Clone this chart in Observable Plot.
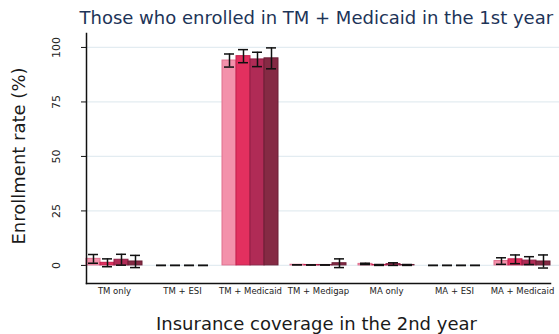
<!DOCTYPE html>
<html>
<head>
<meta charset="utf-8">
<script src="https://cdn.jsdelivr.net/npm/d3@7"></script>
<script src="https://cdn.jsdelivr.net/npm/@observablehq/plot@0.6"></script>
<style>
  body { margin: 0; background: #fff; }
  #wrap { position: relative; width: 559px; height: 334px; overflow: hidden; font-family: "DejaVu Sans", sans-serif; }
  #wrap svg { position: absolute; left: 0; top: 0; }
  .ttl { position: absolute; white-space: nowrap; color: #1d3458; font-size: 18px; }
  .xlab { position: absolute; white-space: nowrap; color: #1a1a1a; font-size: 18px; }
  .ylab { position: absolute; white-space: nowrap; color: #1a1a1a; font-size: 18px; transform: translate(-50%, -50%) rotate(-90deg); }
</style>
</head>
<body>
<div id="wrap">
  <div class="ttl" id="title">Those who enrolled in TM + Medicaid in the 1st year</div>
  <div class="xlab" id="xlabel">Insurance coverage in the 2nd year</div>
  <div class="ylab" id="ylabel">Enrollment rate (%)</div>
</div>
<script>
// Coverage categories in the 2nd year
const categories = ["TM only", "TM + ESI", "TM + Medicaid", "TM + Medigap", "MA only", "MA + ESI", "MA + Medicaid"];
// Four cohorts shown side by side in each category
const cohorts = ["A", "B", "C", "D"];
const cohortFill = ["#f391ab", "#e3305f", "#b02b56", "#852a44"];
const cohortEdge = ["#e0708e", "#c41e4c", "#8f1f44", "#6a1e35"];

// Mean enrollment rate (%) per category, one array per cohort
const rateA = [3.0, 0, 94.0, 0.3, 0.7, 0, 2.0];
const rateB = [1.2, 0, 96.0, 0.2, 0.2, 0, 2.8];
const rateC = [2.6, 0, 94.5, 0.2, 0.6, 0, 2.2];
const rateD = [1.8, 0, 95.0, 1.0, 0.2, 0, 1.8];

// Half-width of the error bars
const errA = [2.0, 0, 3.0, 0, 0.3, 0, 1.5];
const errB = [1.8, 0, 3.0, 0, 0.2, 0, 2.0];
const errC = [2.5, 0, 3.3, 0, 0.6, 0, 1.8];
const errD = [2.8, 0, 4.8, 2.0, 0.2, 0, 3.0];

const yTicks = [0, 25, 50, 75, 100];

const rates = [rateA, rateB, rateC, rateD];
const errs = [errA, errB, errC, errD];
const rows = [];
categories.forEach((cat, i) => {
  cohorts.forEach((co, j) => {
    rows.push({cat, cohort: co, rate: rates[j][i], lo: rates[j][i] - errs[j][i], hi: rates[j][i] + errs[j][i]});
  });
});

const W = 559, H = 334;
const ML = 74, MR = -4;
const yDomain = [-8.3, 106.4];

const chart = Plot.plot({
  width: W,
  height: H,
  marginLeft: ML,
  marginRight: MR,
  marginTop: 33,
  marginBottom: 51,
  style: {fontFamily: "DejaVu Sans, sans-serif", background: "transparent", overflow: "visible"},
  fx: {domain: categories, paddingInner: 0.176, paddingOuter: 0.176, label: null},
  x: {domain: cohorts, padding: 0, axis: null},
  y: {domain: yDomain, ticks: yTicks, label: null},
  color: {domain: cohorts, range: cohortFill},
  marks: [
    // horizontal grid spanning the whole plotting area, drawn as long inward ticks of a y axis
    Plot.axisY({ticks: yTicks, tickSize: -(W - ML - MR), text: null, stroke: "#e3ecf1", strokeWidth: 1.2, strokeOpacity: 1, label: null}),
    Plot.axisFx({anchor: "bottom", fontSize: 8.5, tickSize: 0, tickPadding: 4, fill: "#222", label: null}),
    Plot.axisY({ticks: yTicks, tickRotate: -90, tickSize: 5, tickPadding: 22, fontSize: 11, fill: "#222", stroke: "#111", strokeOpacity: 1, label: null}),
    Plot.barY(rows, {
      fx: "cat", x: "cohort", y: "rate",
      fill: "cohort",
      stroke: d => cohortEdge[cohorts.indexOf(d.cohort)],
      strokeWidth: 1
    }),
    Plot.ruleX(rows, {fx: "cat", x: "cohort", y1: "lo", y2: "hi", stroke: "#111", strokeWidth: 1.5}),
    Plot.tickY(rows, {fx: "cat", x: "cohort", y: "lo", stroke: "#111", strokeWidth: 1.5, insetLeft: 2, insetRight: 2}),
    Plot.tickY(rows, {fx: "cat", x: "cohort", y: "hi", stroke: "#111", strokeWidth: 1.5, insetLeft: 2, insetRight: 2}),
    Plot.frame({facet: "super", anchor: "left", stroke: "#111", strokeWidth: 1.5}),
    Plot.frame({facet: "super", anchor: "bottom", stroke: "#111", strokeWidth: 1.5})
  ]
});

const wrap = document.getElementById("wrap");
wrap.insertBefore(chart, wrap.firstChild);

// Centre the titles over the plotting area
const plotCenter = (ML + W) / 2;
const t = document.getElementById("title");
t.style.left = (plotCenter - t.offsetWidth / 2) + "px";
t.style.top = (17 - t.offsetHeight / 2) + "px";
const xl = document.getElementById("xlabel");
xl.style.left = (plotCenter - xl.offsetWidth / 2) + "px";
xl.style.top = (323 - xl.offsetHeight / 2) + "px";
const yl = document.getElementById("ylabel");
yl.style.left = "18px";
yl.style.top = "156px";
</script>
</body>
</html>
